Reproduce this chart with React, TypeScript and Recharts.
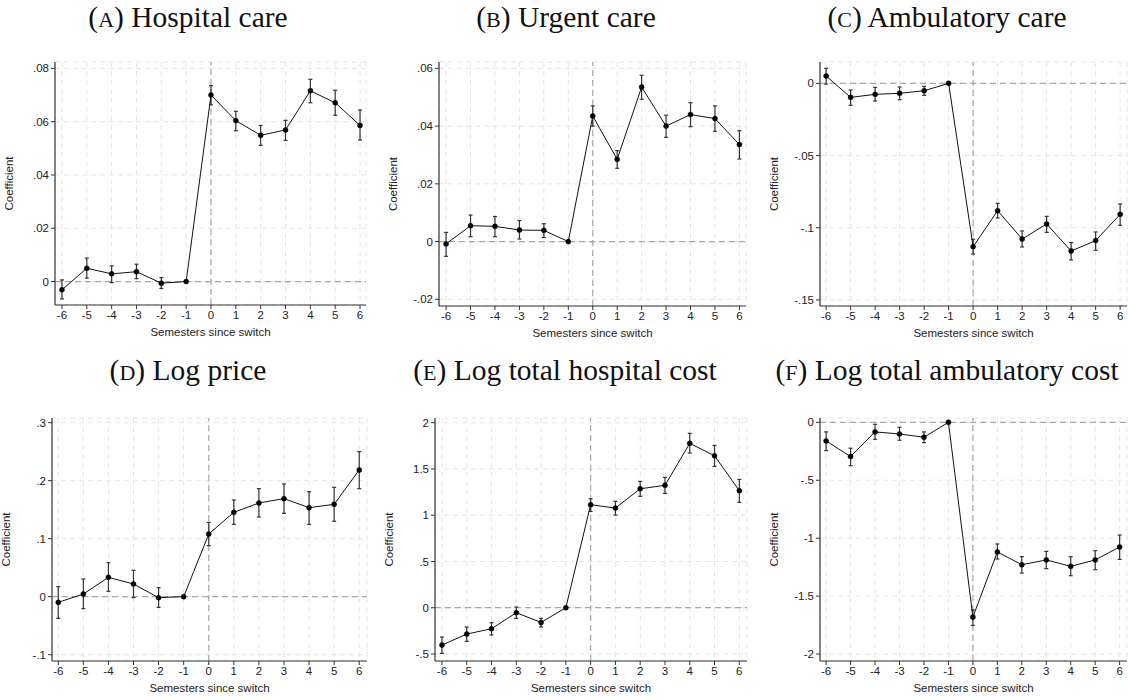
import React from 'react';
import {
  LineChart,
  Line,
  XAxis,
  YAxis,
  CartesianGrid,
  ReferenceLine,
  ErrorBar,
} from 'recharts';

const semesters = [-6, -5, -4, -3, -2, -1, 0, 1, 2, 3, 4, 5, 6];

const hospCoef = [-0.0031, 0.005, 0.0029, 0.0037, -0.0006, 0, 0.07, 0.0604, 0.0549, 0.0569, 0.0716, 0.0671, 0.0586];
const hospLo = [-0.0065, 0.0013, -0.0004, 0.0011, -0.0026, null, 0.0663, 0.0566, 0.0511, 0.053, 0.0671, 0.0624, 0.0531];
const hospHi = [0.0006, 0.0088, 0.0059, 0.0065, 0.0015, null, 0.0735, 0.0639, 0.0586, 0.0605, 0.0759, 0.0718, 0.0644];

const urgCoef = [-0.0008, 0.0055, 0.0053, 0.004, 0.0039, 0, 0.0435, 0.0285, 0.0535, 0.04, 0.044, 0.0426, 0.0336];
const urgLo = [-0.0051, 0.0017, 0.0017, 0.0009, 0.0014, null, 0.04, 0.0254, 0.0493, 0.0361, 0.0398, 0.0382, 0.0286];
const urgHi = [0.0032, 0.0092, 0.0087, 0.0073, 0.0062, null, 0.047, 0.0315, 0.0576, 0.0438, 0.0481, 0.047, 0.0384];

const ambCoef = [0.0051, -0.0097, -0.0076, -0.0069, -0.0051, 0, -0.1131, -0.0882, -0.1078, -0.0974, -0.1161, -0.1089, -0.0907];
const ambLo = [-0.0005, -0.0152, -0.0122, -0.0113, -0.0083, null, -0.1182, -0.0932, -0.1133, -0.1032, -0.1223, -0.1156, -0.0983];
const ambHi = [0.0104, -0.0046, -0.0028, -0.0025, -0.0021, null, -0.108, -0.0831, -0.1022, -0.0921, -0.1103, -0.1029, -0.0835];

const priceCoef = [-0.0098, 0.0046, 0.0333, 0.0218, -0.0017, 0, 0.108, 0.1454, 0.1615, 0.169, 0.1534, 0.1592, 0.2184];
const priceLo = [-0.0374, -0.0207, 0.0092, -0.0017, -0.0184, null, 0.088, 0.1247, 0.1374, 0.1437, 0.1247, 0.1299, 0.1862];
const priceHi = [0.0172, 0.0305, 0.0586, 0.0454, 0.0155, null, 0.128, 0.1667, 0.1862, 0.1943, 0.181, 0.1885, 0.25];

const hcostCoef = [-0.404, -0.285, -0.227, -0.054, -0.159, 0, 1.114, 1.077, 1.286, 1.323, 1.777, 1.643, 1.265];
const hcostLo = [-0.494, -0.364, -0.295, -0.115, -0.209, null, 1.041, 1.002, 1.204, 1.236, 1.672, 1.528, 1.139];
const hcostHi = [-0.317, -0.209, -0.162, 0.007, -0.115, null, 1.178, 1.15, 1.366, 1.409, 1.885, 1.755, 1.387];

const acostCoef = [-0.161, -0.296, -0.083, -0.101, -0.129, 0, -1.681, -1.119, -1.229, -1.188, -1.243, -1.188, -1.076];
const acostLo = [-0.245, -0.374, -0.147, -0.155, -0.176, null, -1.753, -1.18, -1.301, -1.263, -1.324, -1.272, -1.183];
const acostHi = [-0.083, -0.224, -0.017, -0.043, -0.083, null, -1.62, -1.05, -1.16, -1.114, -1.16, -1.108, -0.973];

const hospTicks = [0, 0.02, 0.04, 0.06, 0.08];
const hospTickLabels = ['0', '.02', '.04', '.06', '.08'];
const urgTicks = [-0.02, 0, 0.02, 0.04, 0.06];
const urgTickLabels = ['-.02', '0', '.02', '.04', '.06'];
const ambTicks = [-0.15, -0.1, -0.05, 0];
const ambTickLabels = ['-.15', '-.1', '-.05', '0'];
const priceTicks = [-0.1, 0, 0.1, 0.2, 0.3];
const priceTickLabels = ['-.1', '0', '.1', '.2', '.3'];
const hcostTicks = [-0.5, 0, 0.5, 1, 1.5, 2];
const hcostTickLabels = ['-.5', '0', '.5', '1', '1.5', '2'];
const acostTicks = [-2, -1.5, -1, -0.5, 0];
const acostTickLabels = ['-2', '-1.5', '-1', '-.5', '0'];

const panelLetters = ['A', 'B', 'C', 'D', 'E', 'F'];
const panelTitles = ['Hospital care', 'Urgent care', 'Ambulatory care', 'Log price', 'Log total hospital cost', 'Log total ambulatory cost'];

const xLabel = 'Semesters since switch';
const yLabel = 'Coefficient';

const SANS = '"Liberation Sans", Arial, sans-serif';
const SERIF = '"Liberation Serif", "Times New Roman", serif';

type Panel = {
  coef: number[];
  lo: (number | null)[];
  hi: (number | null)[];
  ticks: number[];
  labels: string[];
  yDomain: [number, number];
  xDomain: [number, number];
  box: { left: number; top: number; right: number; bottom: number };
  titleX: number;
  titleY: number;
};

const panels: Panel[] = [
  { coef: hospCoef, lo: hospLo, hi: hospHi, ticks: hospTicks, labels: hospTickLabels, yDomain: [-0.0088, 0.0824], xDomain: [-6.28, 6.24], box: { left: 55, top: 62, right: 366, bottom: 305 }, titleX: 188, titleY: 27 },
  { coef: urgCoef, lo: urgLo, hi: urgHi, ticks: urgTicks, labels: urgTickLabels, yDomain: [-0.0223, 0.0622], xDomain: [-6.29, 6.27], box: { left: 439, top: 62, right: 746, bottom: 306 }, titleX: 566, titleY: 27 },
  { coef: ambCoef, lo: ambLo, hi: ambHi, ticks: ambTicks, labels: ambTickLabels, yDomain: [-0.1542, 0.0148], xDomain: [-6.25, 6.28], box: { left: 820, top: 62, right: 1127, bottom: 306 }, titleX: 947, titleY: 27 },
  { coef: priceCoef, lo: priceLo, hi: priceHi, ticks: priceTicks, labels: priceTickLabels, yDomain: [-0.1109, 0.308], xDomain: [-6.25, 6.31], box: { left: 52, top: 418, right: 367, bottom: 661 }, titleX: 188, titleY: 380 },
  { coef: hcostCoef, lo: hcostLo, hi: hcostHi, ticks: hcostTicks, labels: hcostTickLabels, yDomain: [-0.576, 2.051], xDomain: [-6.28, 6.31], box: { left: 435, top: 418, right: 747, bottom: 661 }, titleX: 565, titleY: 380 },
  { coef: acostCoef, lo: acostLo, hi: acostHi, ticks: acostTicks, labels: acostTickLabels, yDomain: [-2.06, 0.037], xDomain: [-6.25, 6.3], box: { left: 820, top: 418, right: 1127, bottom: 661 }, titleX: 947, titleY: 380 },
];

const LEFT_W = 50;
const TOP_M = 10;
const RIGHT_M = 4;
const BOTTOM_H = 40;

function PanelChart({ p }: { p: Panel }) {
  const data = semesters.map((s, i) => {
    const lo = p.lo[i];
    const hi = p.hi[i];
    return {
      x: s,
      y: p.coef[i],
      err: lo == null || hi == null ? null : [p.coef[i] - lo, hi - p.coef[i]],
    };
  });
  const plotW = p.box.right - p.box.left;
  const plotH = p.box.bottom - p.box.top;
  const fmt = (v: number) => {
    const idx = p.ticks.findIndex((t) => Math.abs(t - v) < 1e-9);
    return idx >= 0 ? p.labels[idx] : String(v);
  };
  return (
    <div
      style={{
        position: 'absolute',
        left: p.box.left - LEFT_W,
        top: p.box.top - TOP_M,
        width: plotW + LEFT_W + RIGHT_M,
        height: plotH + TOP_M + BOTTOM_H,
      }}
    >
      <LineChart
        width={plotW + LEFT_W + RIGHT_M}
        height={plotH + TOP_M + BOTTOM_H}
        data={data}
        margin={{ top: TOP_M, right: RIGHT_M, left: 0, bottom: 0 }}
      >
        <CartesianGrid stroke="#e6e6e6" strokeDasharray="5 4" strokeWidth={1} />
        <XAxis
          dataKey="x"
          type="number"
          domain={p.xDomain}
          ticks={semesters}
          interval={0}
          allowDataOverflow
          height={BOTTOM_H}
          tickSize={4}
          tickMargin={2}
          axisLine={{ stroke: '#333', strokeWidth: 1.2 }}
          tickLine={{ stroke: '#333', strokeWidth: 1 }}
          tick={{ fill: '#222', fontSize: 11.5, fontFamily: SANS }}
        />
        <YAxis
          type="number"
          domain={p.yDomain}
          ticks={p.ticks}
          interval={0}
          allowDataOverflow
          width={LEFT_W}
          tickSize={4}
          tickMargin={2}
          tickFormatter={fmt}
          axisLine={{ stroke: '#333', strokeWidth: 1.2 }}
          tickLine={{ stroke: '#333', strokeWidth: 1 }}
          tick={{ fill: '#222', fontSize: 11.5, fontFamily: SANS }}
        />
        <ReferenceLine y={0} stroke="#a8a8a8" strokeDasharray="6 4" strokeWidth={1.2} ifOverflow="hidden" />
        <ReferenceLine x={0} stroke="#a8a8a8" strokeDasharray="6 4" strokeWidth={1.2} ifOverflow="hidden" />
        <Line
          dataKey="y"
          type="linear"
          stroke="#111"
          strokeWidth={1}
          isAnimationActive={false}
          dot={{ r: 2.5, fill: '#000', stroke: '#000', strokeWidth: 0.5 }}
          activeDot={false}
        >
          <ErrorBar dataKey="err" direction="y" width={2} stroke="#333" strokeWidth={1.2} isAnimationActive={false} />
        </Line>
      </LineChart>
    </div>
  );
}

export default function App() {
  return (
    <div
      style={{
        position: 'absolute',
        left: 0,
        top: 0,
        width: 1128,
        height: 700,
        background: '#fff',
        overflow: 'hidden',
      }}
    >
      {panels.map((p, i) => (
        <PanelChart key={i} p={p} />
      ))}
      <svg width={1128} height={700} style={{ position: 'absolute', left: 0, top: 0, pointerEvents: 'none' }}>
        {panels.map((p, i) => {
          const cx = (p.box.left + p.box.right) / 2;
          const cy = (p.box.top + p.box.bottom) / 2;
          const ylx = p.box.left - 42;
          return (
            <g key={i}>
              <text x={p.titleX} y={p.titleY} textAnchor="middle" fontFamily={SERIF} fontSize={29.5} fill="#111">
                (<tspan fontSize={22}>{panelLetters[i]}</tspan>) {panelTitles[i]}
              </text>
              <text x={cx} y={p.box.bottom + 31} textAnchor="middle" fontFamily={SANS} fontSize={11.5} fill="#222">
                {xLabel}
              </text>
              <text
                x={ylx}
                y={cy}
                textAnchor="middle"
                fontFamily={SANS}
                fontSize={11.5}
                fill="#222"
                transform={`rotate(-90 ${ylx} ${cy})`}
              >
                {yLabel}
              </text>
            </g>
          );
        })}
      </svg>
    </div>
  );
}
